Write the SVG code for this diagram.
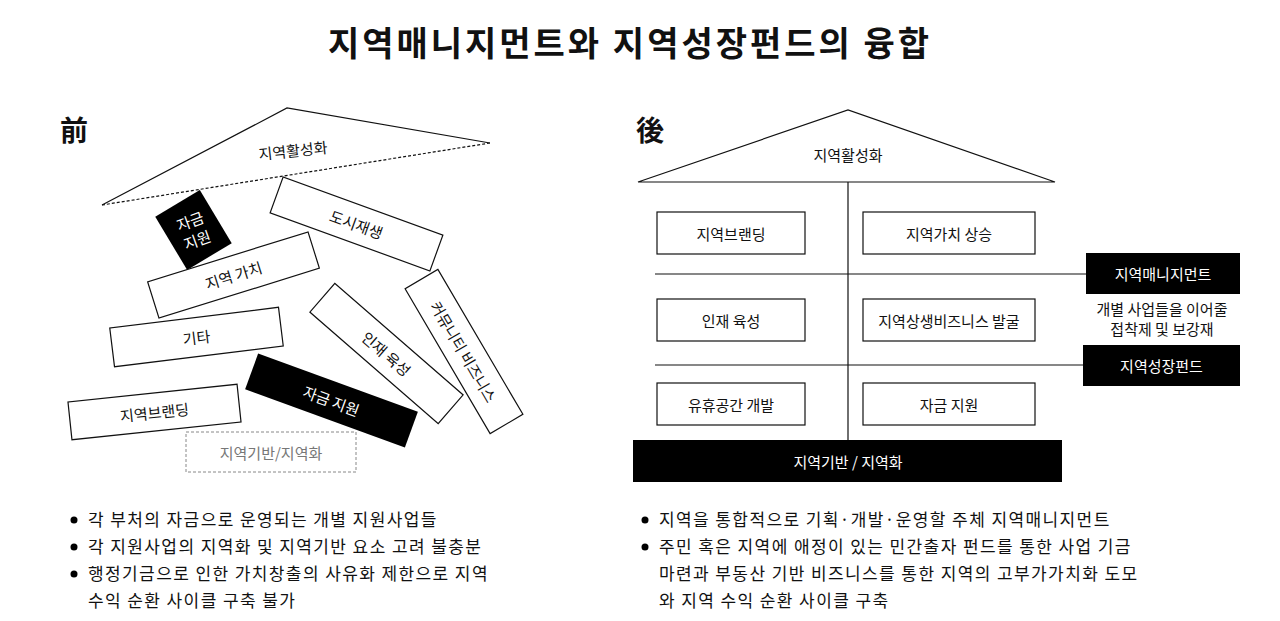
<svg xmlns="http://www.w3.org/2000/svg" width="1280" height="621" viewBox="0 0 1280 621">
<style>
text{font-family:"Noto Sans CJK KR","Noto Sans",sans-serif;fill:#111}
.b{fill:#fff;stroke:#111;stroke-width:1.2}
.k{fill:#000}
.w{fill:#fff}
.t{font-size:15px;text-anchor:middle;dominant-baseline:central}
.p{font-size:17px;letter-spacing:1.4px}
.l{stroke:#111;stroke-width:1.2;fill:none}
</style>
<rect width="1280" height="621" fill="#fff"/>
<text x="630" y="56" font-size="34" font-weight="bold" text-anchor="middle" letter-spacing="3">지역매니지먼트와 지역성장펀드의 융합</text>
<text x="60" y="141" font-size="28" font-weight="bold">前</text>
<text x="636" y="141" font-size="28" font-weight="bold">後</text>
<g id="left">
<g id="roof-l"><path class="l" d="M102,205 L287,108 L490,143"/><path class="l" stroke-dasharray="3,2" d="M490,143 L102,205"/><text class="t" x="293" y="150" transform="rotate(-6 293 150)">지역활성화</text></g>
<g id="n-dosi" transform="translate(356.5,224) rotate(20)"><rect class="b" x="-85" y="-19" width="170" height="38"/><text class="t" x="0" y="0">도시재생</text></g>
<g id="n-jagum1" transform="translate(193.5,230) rotate(-31)"><rect class="k" x="-26" y="-31" width="52" height="62"/><g transform="rotate(11)"><text class="t w" x="0" y="-10">자금</text><text class="t w" x="0" y="10">지원</text></g></g>
<g id="n-gachi" transform="translate(233.5,275) rotate(-17.3)"><rect class="b" x="-84" y="-19" width="168" height="38"/><text class="t" x="0" y="0">지역 가치</text></g>
<g id="n-gita" transform="translate(196.5,337) rotate(-7)"><rect class="b" x="-85" y="-19.5" width="170" height="39"/><text class="t" x="0" y="0">기타</text></g>
<g id="n-brand" transform="translate(154.5,412) rotate(-6)"><rect class="b" x="-85" y="-19" width="170" height="38"/><text class="t" x="0" y="0">지역브랜딩</text></g>
<g id="n-jagum2" transform="translate(331.5,400.5) rotate(20)"><rect class="k" x="-85" y="-19" width="170" height="38"/><text class="t w" x="0" y="0">자금 지원</text></g>
<g id="n-injae" transform="translate(386.5,353.5) rotate(41)"><rect class="b" x="-85" y="-19" width="170" height="38"/><text class="t" x="0" y="0">인재 육성</text></g>
<g id="n-comm" transform="translate(464,351.5) rotate(59.6)"><rect class="b" x="-84" y="-19" width="168" height="38"/><text class="t" x="0" y="0">커뮤니티 비즈니스</text></g>
<g id="n-base-l"><rect x="186" y="432" width="170" height="40" fill="#fff" stroke="#888" stroke-dasharray="3,2"/><text class="t" x="271" y="452" style="fill:#777">지역기반/지역화</text></g>
</g>
<g id="connectors"><path class="l" d="M848,182 V440 M655,274 H1086 M655,365 H1083"/></g>
<g id="right">
<g id="roof-r"><path class="l" d="M638,182 L848,110 L1055,182 Z"/><text class="t" x="848" y="154">지역활성화</text></g>
<g id="r1"><rect class="b" x="657" y="212" width="148" height="42"/><text class="t" x="731" y="233">지역브랜딩</text></g>
<g id="r2"><rect class="b" x="863" y="212" width="172" height="42"/><text class="t" x="949" y="233">지역가치 상승</text></g>
<g id="r3"><rect class="b" x="657" y="299" width="148" height="42"/><text class="t" x="731" y="320">인재 육성</text></g>
<g id="r4"><rect class="b" x="863" y="299" width="172" height="42"/><text class="t" x="949" y="320">지역상생비즈니스 발굴</text></g>
<g id="r5"><rect class="b" x="657" y="383" width="148" height="42"/><text class="t" x="731" y="404">유휴공간 개발</text></g>
<g id="r6"><rect class="b" x="863" y="383" width="172" height="42"/><text class="t" x="949" y="404">자금 지원</text></g>
<g id="base-r"><rect class="k" x="633" y="440" width="429" height="42"/><text class="t w" x="848" y="461">지역기반 / 지역화</text></g>
<g id="mgmt"><rect class="k" x="1086" y="253" width="154" height="41"/><text class="t w" x="1163" y="273.5">지역매니지먼트</text></g>
<g id="fund"><rect class="k" x="1083" y="345" width="157" height="41"/><text class="t w" x="1161.5" y="365.5">지역성장펀드</text></g>
<text class="t" x="1162" y="308" font-size="14">개별 사업들을 이어줄</text>
<text class="t" x="1162" y="328" font-size="14">접착제 및 보강재</text>
</g>
<g id="bullets-l">
<circle cx="74" cy="520" r="3.5"/><circle cx="74" cy="547" r="3.5"/><circle cx="74" cy="574" r="3.5"/>
<text class="p" x="88" y="526">각 부처의 자금으로 운영되는 개별 지원사업들</text>
<text class="p" x="88" y="553">각 지원사업의 지역화 및 지역기반 요소 고려 불충분</text>
<text class="p" x="88" y="580">행정기금으로 인한 가치창출의 사유화 제한으로 지역</text>
<text class="p" x="88" y="607">수익 순환 사이클 구축 불가</text>
</g>
<g id="bullets-r">
<circle cx="645" cy="520" r="3.5"/><circle cx="645" cy="547" r="3.5"/>
<text class="p" x="659" y="526">지역을 통합적으로 기획·개발·운영할 주체 지역매니지먼트</text>
<text class="p" x="659" y="553">주민 혹은 지역에 애정이 있는 민간출자 펀드를 통한 사업 기금</text>
<text class="p" x="659" y="580">마련과 부동산 기반 비즈니스를 통한 지역의 고부가가치화 도모</text>
<text class="p" x="659" y="607">와 지역 수익 순환 사이클 구축</text>
</g>
</svg>
